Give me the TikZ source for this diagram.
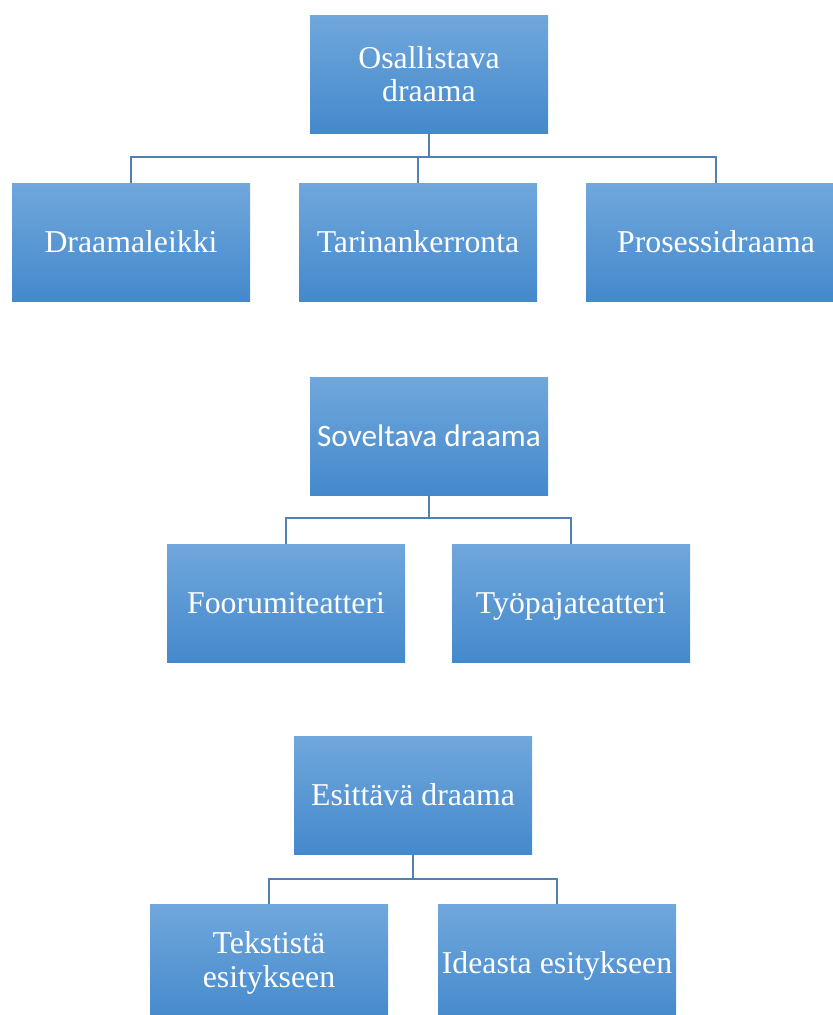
\documentclass[tikz,border=0pt]{standalone}
\usepackage{fontspec}
\setmainfont{Liberation Serif}
\newfontfamily\calibrifont{Carlito}
\usepackage{tikz}

\definecolor{boxtop}{RGB}{112,167,220}
\definecolor{boxbot}{RGB}{68,137,204}
\definecolor{linkcol}{RGB}{82,128,176}

\begin{document}
\begin{tikzpicture}[x=0.025cm,y=-0.025cm,
  box/.style={rectangle,minimum width=238*0.025cm,minimum height=118*0.025cm,
    inner sep=0pt,outer sep=0pt,top color=boxtop,bottom color=boxbot,
    text=white,align=center,font=\fontsize{22.6}{24}\selectfont},
  oneline/.style={box,text height=15pt,text depth=0pt},
  link/.style={draw=linkcol,line width=1pt}]
\useasboundingbox (0,0) rectangle (833,1015);
% first tree
\node[box] (osal) at (429,74) {Osallistava\\draama};
\node[oneline] (leikki) at (131,242) {Draamaleikki};
\node[oneline] (tarina) at (418,242) {Tarinankerronta};
\node[oneline,minimum width=260*0.025cm] (prosessi) at (716,242) {Prosessidraama};
\coordinate (j1) at (429,157);
\draw[link] (osal.south) -- (j1);
\draw[link] (leikki.north) |- (j1) -| (prosessi.north);
\draw[link] (tarina.north) -- (tarina.north |- j1);
% second tree
\node[oneline,font=\calibrifont\fontsize{22.2}{23}\selectfont] (sovel) at (429,436) {Soveltava draama};
\node[oneline] (foorumi) at (286,603) {Foorumiteatteri};
\node[oneline] (tyopaja) at (571,603) {Työpajateatteri};
\coordinate (j2) at (429,518);
\draw[link] (sovel.south) -- (j2);
\draw[link] (foorumi.north) |- (j2) -| (tyopaja.north);
% third tree
\node[oneline] (esit) at (413,795) {Esittävä draama};
\node[box] (teksti) at (269,963) {Tekstistä\\esitykseen};
\node[oneline] (idea) at (557,963) {Ideasta esitykseen};
\coordinate (j3) at (413,879);
\draw[link] (esit.south) -- (j3);
\draw[link] (teksti.north) |- (j3) -| (idea.north);
\end{tikzpicture}
\end{document}
